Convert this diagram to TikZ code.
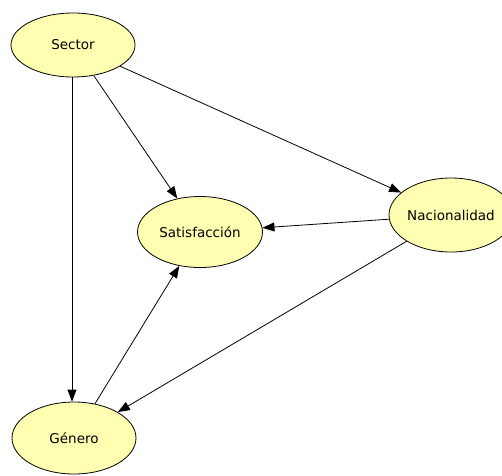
\documentclass[tikz,border=0pt]{standalone}
\usepackage{fontspec}
\setmainfont{DejaVu Sans}
\usepackage{tikz}
\usetikzlibrary{arrows.meta,shapes.geometric}
\definecolor{varfill}{RGB}{255,255,178}
\tikzset{
  >={Triangle[length=12pt,width=9pt]},
  varnode/.style={ellipse,draw=black,fill=varfill,line width=0.8pt,
    minimum width=124pt,minimum height=68pt,inner sep=0pt,
    font=\fontsize{13.5}{16}\selectfont},
  varedge/.style={->,line width=0.8pt,black},
}
\begin{document}
\begin{tikzpicture}[x=1pt,y=-1pt]
  \useasboundingbox (0,0) rectangle (502,475);
  \clip (0,0) rectangle (502,475);
  \node[varnode,minimum height=64pt] (sec) at (73,45) {Sector};
  \node[varnode,minimum width=125pt,minimum height=71pt] (sat) at (200,232) {Satisfacción};
  \node[varnode,minimum height=74pt] (nac) at (451,215) {Nacionalidad};
  \node[varnode,minimum height=72pt] (gen) at (74,438) {Género};
  \draw[varedge] (sec)--(sat);
  \draw[varedge] (sec)--(nac);
  \draw[varedge] (sec.south -| 72,0)--(gen.north -| 72,0);
  \draw[varedge] (nac)--(sat);
  \draw[varedge] (nac)--(gen);
  \draw[varedge] (gen)--(sat);
\end{tikzpicture}
\end{document}
